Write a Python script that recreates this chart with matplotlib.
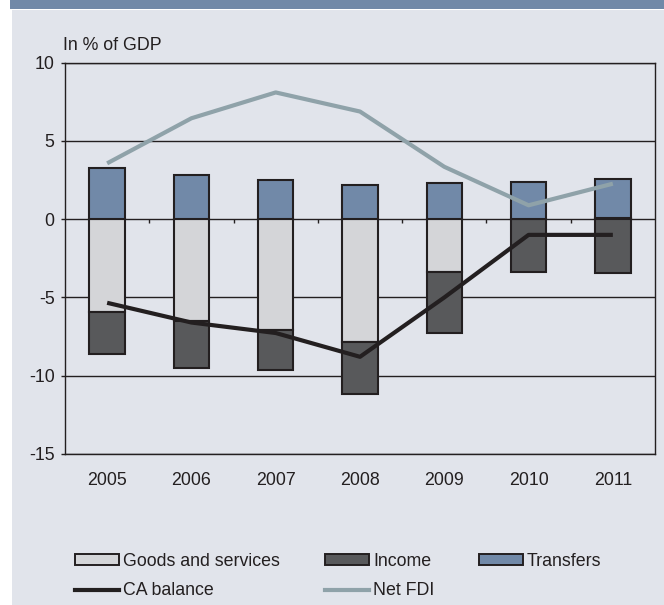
import matplotlib
matplotlib.use("Agg")
import matplotlib.pyplot as plt
from matplotlib.patches import Rectangle, Patch
from matplotlib.lines import Line2D
import numpy as np

plt.rcParams['font.family'] = ['Liberation Sans', 'DejaVu Sans']

years = ["2005", "2006", "2007", "2008", "2009", "2010", "2011"]
goods = [-5.92, -6.5, -7.06, -7.84, -3.35, 0.0, 0.1]
income = [-2.67, -3.0, -2.58, -3.33, -3.91, -3.35, -3.45]
transfers = [3.3, 2.8, 2.5, 2.2, 2.3, 2.4, 2.45]
ca_balance = [-5.34, -6.6, -7.27, -8.79, -5.0, -1.0, -1.0]
net_fdi = [3.57, 6.45, 8.1, 6.88, 3.35, 0.89, 2.27]
yticks = [10, 5, 0, -5, -10, -15]

C_HEAD = '#7189a8'
C_BG = '#e1e4eb'
C_GOODS = '#d4d5d8'
C_INC = '#58595b'
C_TR = '#7189a8'
C_FDI = '#8fa2a9'
C_CA = '#231f20'
C_TXT = '#231f20'

fig = plt.figure(figsize=(6.64, 6.05), dpi=100)
fig.patch.set_facecolor('white')
fig.add_artist(Rectangle((12/664, 0), 1, 1 - 10/605, transform=fig.transFigure,
                         facecolor=C_BG, edgecolor='none', zorder=-10))
fig.add_artist(Rectangle((10/664, 1 - 9/605), 1, 9/605, transform=fig.transFigure,
                         facecolor=C_HEAD, edgecolor='none', zorder=-10))

ax = fig.add_axes([65/664, 1 - 454/605, 590/664, (454 - 62.7)/605])
ax.set_facecolor('none')

x = np.arange(len(years))
goods = np.array(goods)
income = np.array(income)
transfers = np.array(transfers)

pos_base = np.maximum(goods, 0)
neg_base = np.minimum(goods, 0)
w = 0.42
ek = dict(edgecolor=C_CA, linewidth=1.5, zorder=3)
ax.bar(x, goods, w, color=C_GOODS, **ek)
ax.bar(x, income, w, bottom=neg_base, color=C_INC, **ek)
ax.bar(x, transfers, w, bottom=pos_base, color=C_TR, **ek)

ax.plot(x, ca_balance, color=C_CA, lw=3.0, zorder=5, solid_capstyle='butt')
ax.plot(x, net_fdi, color=C_FDI, lw=3.0, zorder=5, solid_capstyle='butt')

for yv in yticks:
    ax.axhline(yv, color=C_TXT, lw=1.0, zorder=1)
# small tick marks on zero line between categories
ax.vlines(x[:-1] + 0.5, 0, -0.27, color=C_TXT, lw=1.0, zorder=1)

ax.set_xlim(-0.5, len(years) - 0.5)
ax.set_ylim(-15, 10)
ax.set_yticks(yticks)
ax.set_yticklabels([str(v) for v in yticks])
ax.set_xticks(x)
ax.set_xticklabels(years)
ax.tick_params(axis='y', length=3, width=1.0, color=C_TXT, pad=4.5, labelsize=12.8, labelcolor=C_TXT)
ax.tick_params(axis='x', length=0, pad=13, labelsize=12.8, labelcolor=C_TXT)
for s in ['left', 'right', 'bottom', 'top']:
    ax.spines[s].set_color(C_TXT)
    ax.spines[s].set_linewidth(1.0)

fig.text(63/664, 1 - 50/605, "In % of GDP", fontsize=12.8, color=C_TXT, va='baseline', ha='left')

handles = [
    Patch(facecolor=C_GOODS, edgecolor=C_CA, linewidth=1.4),
    Line2D([], [], color=C_CA, lw=3),
    Patch(facecolor=C_INC, edgecolor=C_CA, linewidth=1.4),
    Line2D([], [], color=C_FDI, lw=3),
    Patch(facecolor=C_TR, edgecolor=C_CA, linewidth=1.4),
]
labels = ["Goods and services", "CA balance", "Income", "Net FDI", "Transfers"]
leg = fig.legend(handles, labels, ncol=3, loc='upper left',
                 bbox_to_anchor=(75/664, 1 - 553/605), frameon=False,
                 fontsize=12.8, handlelength=2.5, handleheight=0.55,
                 handletextpad=0.22, columnspacing=2.5, labelspacing=0.7,
                 borderpad=0, borderaxespad=0)
for t in leg.get_texts():
    t.set_color(C_TXT)

fig.savefig("out.png", dpi=100, facecolor=fig.get_facecolor())
